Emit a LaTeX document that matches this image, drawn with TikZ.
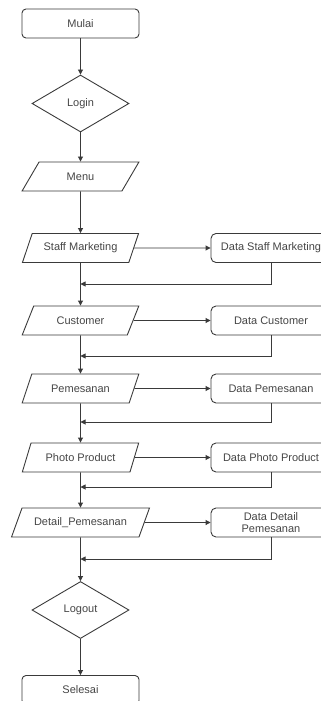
\documentclass[tikz,border=0pt]{standalone}
\usepackage{fontspec}
\setmainfont{Liberation Sans}
\usetikzlibrary{shapes.geometric,arrows.meta}
\definecolor{linegray}{HTML}{3A3A3A}
\definecolor{textgray}{HTML}{454545}

\begin{document}
\begin{tikzpicture}[x=1pt, y=-1pt,
    line/.style={draw=linegray, line width=0.9pt},
    arr/.style={line, -{Triangle[length=5pt, width=5pt]}},
    base/.style={line, text=textgray, font=\fontsize{11}{12.5}\selectfont, inner sep=1pt, align=center},
    terminal/.style={base, rectangle, rounded corners=4pt, minimum width=117pt, minimum height=29pt},
    datarect/.style={base, rectangle, rounded corners=5pt, minimum width=120pt, minimum height=29pt},
    decision/.style={base, diamond, aspect=1.7, minimum width=97pt, minimum height=57pt},
    inout/.style={base, trapezium, trapezium stretches=true, minimum height=29pt}]
  \clip (0, 0) rectangle (321, 701);
  \node[terminal] (mulai) at (80.5, 23.5) {Mulai};
  \node[decision] (login) at (80.5, 103.5) {Login};
  \node[inout, minimum width=117pt, trapezium left angle=58, trapezium right angle=122] (menu) at (80.5, 176.5) {Menu};
  % input / data rows
  \foreach \i/\y/\ry/\boxw/\lang/\rang/\intxt/\datatxt in {
      1/248/284/117/58/122/{Staff Marketing}/{Data Staff Marketing},
      2/320.5/356/117/58/122/{Customer}/{Data Customer},
      3/388.5/422/117/58/122/{Pemesanan}/{Data Pemesanan},
      4/457.5/487/117/58/122/{Photo Product}/{Data Photo Product},
      5/522.5/559/138/55/125/{Detail\_Pemesanan}/{Data Detail\\Pemesanan}} {
    \node[inout, minimum width=\boxw pt, trapezium left angle=\lang, trapezium right angle=\rang] (in\i) at (80.5, \y) {\intxt};
    \node[datarect] (data\i) at (271, \y) {\datatxt};
    \coordinate (ret\i) at (80.5, \ry);
    \draw[arr] (in\i.east) -- (data\i.west);
    \draw[arr] (data\i.south) |- (ret\i);
  }
  \node[decision] (logout) at (80.5, 610) {Logout};
  \node[terminal] (selesai) at (80.5, 690) {Selesai};
  % main flow
  \draw[arr] (mulai) -- (login);
  \draw[arr] (login) -- (menu);
  \draw[arr] (menu) -- (in1);
  \foreach \i/\j in {1/2, 2/3, 3/4, 4/5}
    \draw[arr] (in\i) -- (in\j);
  \draw[arr] (in5) -- (logout);
  \draw[arr] (logout) -- (selesai);
\end{tikzpicture}
\end{document}
